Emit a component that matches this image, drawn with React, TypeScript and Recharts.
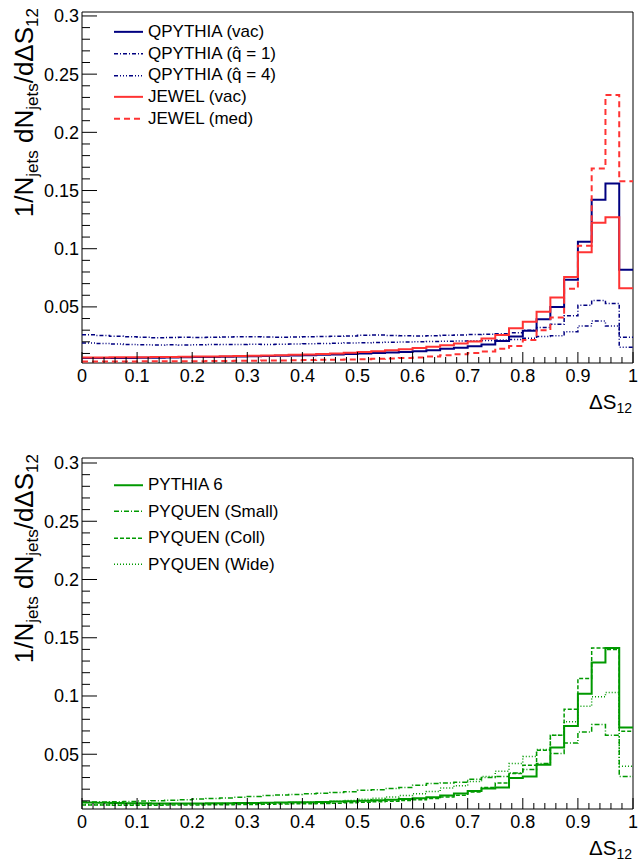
import { LineChart, Line, XAxis, YAxis, ReferenceArea, Legend } from "recharts"

// bin edges (40 bins of 0.025 plus the closing edge)
const edges = [
  0, 0.025, 0.05, 0.075, 0.1, 0.125, 0.15, 0.175, 0.2, 0.225,
  0.25, 0.275, 0.3, 0.325, 0.35, 0.375, 0.4, 0.425, 0.45, 0.475,
  0.5, 0.525, 0.55, 0.575, 0.6, 0.625, 0.65, 0.675, 0.7, 0.725,
  0.75, 0.775, 0.8, 0.825, 0.85, 0.875, 0.9, 0.925, 0.95, 0.975, 1,
]

const xTickLabels = ["0", "0.1", "0.2", "0.3", "0.4", "0.5", "0.6", "0.7", "0.8", "0.9", "1"]
const yTickLabels = ["0.05", "0.1", "0.15", "0.2", "0.25", "0.3"]

// top panel
const qpythiaVac = [
  0.006, 0.006, 0.0061, 0.0062, 0.0063, 0.0064, 0.0066, 0.0067, 0.0069, 0.007,
  0.0072, 0.0074, 0.0076, 0.0078, 0.008, 0.0082, 0.0085, 0.0088, 0.0092, 0.0096,
  0.01, 0.0104, 0.0109, 0.0113, 0.0118, 0.0128, 0.014, 0.015, 0.0163, 0.0178,
  0.0208, 0.0245, 0.0296, 0.0395, 0.05, 0.0733, 0.106, 0.142, 0.156, 0.082,
]
const qpythiaQ1 = [
  0.026, 0.0255, 0.0248, 0.0244, 0.024, 0.0236, 0.0238, 0.024, 0.0237, 0.0239,
  0.0241, 0.0243, 0.0244, 0.0242, 0.024, 0.0241, 0.0243, 0.0245, 0.0247, 0.025,
  0.0256, 0.0258, 0.0255, 0.0252, 0.025, 0.0253, 0.0256, 0.0259, 0.0262, 0.0266,
  0.027, 0.0278, 0.03, 0.0322, 0.035, 0.0423, 0.0514, 0.0555, 0.053, 0.024,
]
const qpythiaQ4 = [
  0.019, 0.0186, 0.0181, 0.0178, 0.0175, 0.0172, 0.0175, 0.0173, 0.0175, 0.0177,
  0.0176, 0.0178, 0.018, 0.0178, 0.018, 0.0182, 0.0184, 0.0186, 0.0188, 0.019,
  0.0192, 0.0195, 0.0197, 0.0199, 0.0201, 0.0203, 0.0205, 0.0207, 0.0209, 0.0212,
  0.0215, 0.022, 0.023, 0.0245, 0.0252, 0.0287, 0.0336, 0.0378, 0.0336, 0.0154,
]
const jewelVac = [
  0.0066, 0.0066, 0.0067, 0.0067, 0.0068, 0.0069, 0.007, 0.0071, 0.0073, 0.0074,
  0.0076, 0.0078, 0.008, 0.0082, 0.0085, 0.0088, 0.0091, 0.0095, 0.01, 0.0106,
  0.0113, 0.012, 0.0128, 0.0137, 0.0147, 0.0158, 0.017, 0.0186, 0.0202, 0.0228,
  0.0259, 0.0316, 0.0372, 0.0458, 0.058, 0.0756, 0.097, 0.1224, 0.127, 0.066,
]
const jewelMed = [
  0.003, 0.003, 0.0031, 0.0031, 0.0032, 0.0032, 0.0033, 0.0033, 0.0034, 0.0035,
  0.0036, 0.0037, 0.0038, 0.0039, 0.004, 0.0042, 0.0043, 0.0045, 0.0047, 0.0049,
  0.0051, 0.0054, 0.0057, 0.0061, 0.0066, 0.0073, 0.0085, 0.0094, 0.0105, 0.0117,
  0.014, 0.0165, 0.0216, 0.03, 0.041, 0.0657, 0.1026, 0.169, 0.232, 0.158,
]

// bottom panel
const pythia6 = [
  0.0085, 0.0083, 0.0081, 0.008, 0.0079, 0.0078, 0.0077, 0.0077, 0.0078, 0.0079,
  0.008, 0.0081, 0.0082, 0.0083, 0.0085, 0.0087, 0.0089, 0.0091, 0.0094, 0.0097,
  0.0101, 0.0105, 0.011, 0.0116, 0.0123, 0.013, 0.0145, 0.0162, 0.0185, 0.0205,
  0.0214, 0.0296, 0.031, 0.041, 0.0557, 0.0743, 0.102, 0.1288, 0.1413, 0.073,
]
const pyquenSmall = [
  0.009, 0.009, 0.0092, 0.0095, 0.0098, 0.01, 0.0105, 0.011, 0.0115, 0.012,
  0.0125, 0.013, 0.0138, 0.0145, 0.015, 0.0155, 0.016, 0.0165, 0.0171, 0.0178,
  0.019, 0.0195, 0.0205, 0.0215, 0.0234, 0.0248, 0.0254, 0.026, 0.0285, 0.03,
  0.031, 0.034, 0.037, 0.042, 0.0506, 0.0597, 0.0692, 0.0755, 0.0663, 0.031,
]
const pyquenColl = [
  0.0065, 0.0064, 0.0063, 0.0063, 0.0063, 0.0063, 0.0064, 0.0064, 0.0065, 0.0066,
  0.0067, 0.0068, 0.0069, 0.007, 0.0072, 0.0074, 0.0076, 0.0078, 0.008, 0.0084,
  0.0088, 0.0092, 0.0097, 0.0103, 0.011, 0.012, 0.0133, 0.0148, 0.0176, 0.0214,
  0.0254, 0.0334, 0.0405, 0.0534, 0.0663, 0.0887, 0.115, 0.1413, 0.14, 0.0698,
]
const pyquenWide = [
  0.0068, 0.0067, 0.0068, 0.0069, 0.007, 0.0071, 0.0072, 0.0073, 0.0074, 0.0076,
  0.0077, 0.0079, 0.008, 0.0082, 0.0084, 0.0086, 0.0089, 0.0092, 0.0096, 0.0104,
  0.0113, 0.0122, 0.0133, 0.0145, 0.016, 0.018, 0.021, 0.023, 0.0265, 0.031,
  0.0355, 0.042, 0.048, 0.054, 0.0663, 0.0778, 0.0912, 0.0993, 0.103, 0.0397,
]

const NAVY = "#000080"
const RED = "#ff3333"
const GREEN = "#009900"
const FONT = "'Liberation Sans', Arial, Helvetica, sans-serif"

type Series = { key: string; label: string; values: number[]; color: string; width: number; dash?: string }

const topSeries: Series[] = [
  { key: "qvac", label: "QPYTHIA (vac)", values: qpythiaVac, color: NAVY, width: 2 },
  { key: "q1", label: "QPYTHIA (q\u0302 = 1)", values: qpythiaQ1, color: NAVY, width: 1.5, dash: "4 2 1 2" },
  { key: "q4", label: "QPYTHIA (q\u0302 = 4)", values: qpythiaQ4, color: NAVY, width: 1.5, dash: "4 2 1 2 1 2 1 2" },
  { key: "jvac", label: "JEWEL (vac)", values: jewelVac, color: RED, width: 2 },
  { key: "jmed", label: "JEWEL (med)", values: jewelMed, color: RED, width: 2, dash: "6 4" },
]

const bottomSeries: Series[] = [
  { key: "p6", label: "PYTHIA 6", values: pythia6, color: GREEN, width: 2 },
  { key: "small", label: "PYQUEN (Small)", values: pyquenSmall, color: GREEN, width: 1.5, dash: "5 2 1 2" },
  { key: "coll", label: "PYQUEN (Coll)", values: pyquenColl, color: GREEN, width: 1.5, dash: "4 2" },
  { key: "wide", label: "PYQUEN (Wide)", values: pyquenWide, color: GREEN, width: 1.5, dash: "1 2" },
]

// stepAfter needs the last bin repeated at x = 1
const buildRows = (series: Series[]) =>
  edges.map((x, i) => {
    const row: Record<string, number> = { x }
    series.forEach((s) => {
      row[s.key] = s.values[Math.min(i, s.values.length - 1)]
    })
    return row
  })

const xTicks = Array.from({ length: 51 }, (_, i) => i / 50)
const yTicks = Array.from({ length: 30 }, (_, i) => (i + 1) / 100)

const XTick = ({ x, y, payload }: any) => {
  const v = payload.value
  const major = Math.abs(v * 10 - Math.round(v * 10)) < 1e-6
  return (
    <g>
      <line x1={x} x2={x} y1={y} y2={y - (major ? 11 : 6)} stroke="#000" strokeWidth={1} />
      {major && (
        <text x={x} y={y + 19} textAnchor="middle" fontSize={18} fontFamily={FONT} fill="#000">
          {xTickLabels[Math.round(v * 10)]}
        </text>
      )}
    </g>
  )
}

const YTick = ({ x, y, payload }: any) => {
  const idx = Math.round(payload.value * 100)
  const major = idx % 5 === 0
  return (
    <g>
      <line x1={x} x2={x + (major ? 15 : 8)} y1={y} y2={y} stroke="#000" strokeWidth={1} />
      {major && (
        <text x={x - 3} y={y + 6.4} textAnchor="end" fontSize={18} fontFamily={FONT} fill="#000">
          {yTickLabels[idx / 5 - 1]}
        </text>
      )}
    </g>
  )
}

const LegendBox = ({ series, rowH }: { series: Series[]; rowH: number }) => (
  <div style={{ fontFamily: FONT, fontSize: 17, color: "#000" }}>
    {series.map((s) => (
      <div key={s.key} style={{ display: "flex", alignItems: "center", height: rowH, whiteSpace: "nowrap" }}>
        <svg width={34} height={rowH}>
          <line x1={0} x2={29} y1={rowH / 2} y2={rowH / 2} stroke={s.color} strokeWidth={s.width} strokeDasharray={s.dash} />
        </svg>
        <span>{s.label}</span>
      </div>
    ))}
  </div>
)

function Panel({ series, yMin, yMax, height, legendTop, rowH }: any) {
  const rows = buildRows(series)
  return (
    <LineChart width={643} height={height} data={rows} margin={{ top: 12, right: 10, left: 0, bottom: 0 }}>
      <XAxis
        dataKey="x"
        type="number"
        domain={[0, 1]}
        ticks={xTicks}
        interval={0}
        height={height - 12 - 351}
        tickSize={0}
        tickMargin={0}
        axisLine={false}
        tick={<XTick />}
      />
      <YAxis
        type="number"
        domain={[yMin, yMax]}
        allowDataOverflow
        ticks={yTicks}
        interval={0}
        width={82}
        tickSize={0}
        tickMargin={0}
        axisLine={false}
        tick={<YTick />}
      />
      {series.map((s: Series) => (
        <Line
          key={s.key}
          dataKey={s.key}
          type="stepAfter"
          stroke={s.color}
          strokeWidth={s.width}
          strokeDasharray={s.dash}
          dot={false}
          activeDot={false}
          isAnimationActive={false}
        />
      ))}
      <ReferenceArea x1={0} x2={1} y1={yMin} y2={yMax} fill="none" stroke="#000" strokeWidth={1} ifOverflow="visible" />
      <Legend
        layout="vertical"
        align="center"
        verticalAlign="middle"
        wrapperStyle={{ left: 114, top: legendTop, width: 260 }}
        content={() => <LegendBox series={series} rowH={rowH} />}
      />
    </LineChart>
  )
}

const YTitle = ({ x, top }: { x: number; top: number }) => (
  <text transform={`translate(${x}, ${top}) rotate(-90)`} textAnchor="end" fontSize={26} fontFamily={FONT} fill="#000">
    1/N<tspan fontSize={17} dy={5}>jets</tspan>
    <tspan dy={-5}> dN</tspan>
    <tspan fontSize={17} dy={5}>jets</tspan>
    <tspan dy={-5}>/d&Delta;S</tspan>
    <tspan fontSize={17} dy={5}>12</tspan>
  </text>
)

const XTitle = ({ y }: { y: number }) => (
  <text x={632} y={y} textAnchor="end" fontSize={20.5} fontFamily={FONT} fill="#000">
    &Delta;S<tspan fontSize={14} dy={4}>12</tspan>
  </text>
)

export default function App() {
  return (
    <div style={{ position: "absolute", left: 0, top: 0, width: 643, height: 866, background: "#fff", overflow: "hidden" }}>
      <div style={{ position: "absolute", left: 0, top: 0 }}>
        <Panel series={topSeries} yMin={0.0018} yMax={0.3034} height={430} legendTop={32 - 21.7 / 2} rowH={21.7} />
      </div>
      <div style={{ position: "absolute", left: 0, top: 446 }}>
        <Panel series={bottomSeries} yMin={0.003} yMax={0.3043} height={420} legendTop={39 - 26.5 / 2} rowH={26.5} />
      </div>
      <svg width={643} height={866} style={{ position: "absolute", left: 0, top: 0, pointerEvents: "none" }}>
        <YTitle x={33} top={8} />
        <YTitle x={33} top={454} />
        <XTitle y={409} />
        <XTitle y={855} />
      </svg>
    </div>
  )
}
